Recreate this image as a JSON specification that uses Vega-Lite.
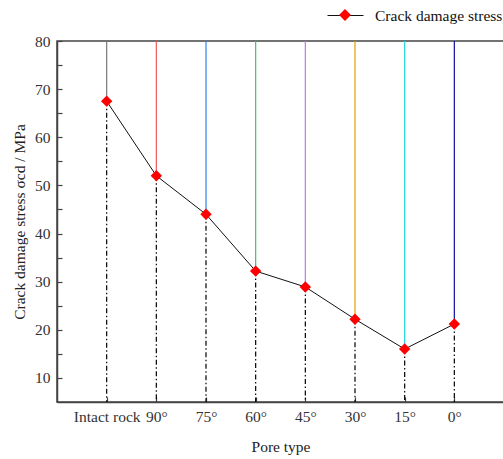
{
  "$schema": "https://vega.github.io/schema/vega-lite/v6.json",
  "width": 447,
  "height": 361,
  "autosize": "none",
  "padding": {"left": 57, "top": 41, "right": 0, "bottom": 57},
  "config": {
    "font": "Liberation Serif",
    "view": {"stroke": "#444444", "strokeWidth": 1.5},
    "axis": {
      "grid": false,
      "domainColor": "#444444",
      "domainWidth": 1.5,
      "tickColor": "#444444",
      "tickWidth": 1.2,
      "labelFont": "Liberation Serif",
      "labelFontSize": 15.5,
      "labelColor": "#333333",
      "titleFont": "Liberation Serif",
      "titleFontSize": 15.5,
      "titleFontWeight": "normal",
      "titleColor": "#222222"
    },
    "legend": {
      "labelFont": "Liberation Serif",
      "labelFontSize": 15.5,
      "labelColor": "#111111",
      "padding": 0
    }
  },
  "data": {
    "values": [
      {"type": "Intact rock", "stress": 67.5},
      {"type": "90°", "stress": 52.0},
      {"type": "75°", "stress": 44.0},
      {"type": "60°", "stress": 32.2},
      {"type": "45°", "stress": 28.9},
      {"type": "30°", "stress": 22.2},
      {"type": "15°", "stress": 16.0},
      {"type": "0°", "stress": 21.2}
    ]
  },
  "encoding": {
    "x": {
      "field": "type",
      "type": "nominal",
      "sort": null,
      "scale": {"type": "point", "padding": 1},
      "axis": {
        "title": "Pore type",
        "labelAngle": 0,
        "tickSize": -5,
        "labelPadding": 12,
        "titlePadding": 15
      }
    },
    "y": {
      "field": "stress",
      "type": "quantitative",
      "scale": {"domain": [5, 80], "nice": false, "zero": false},
      "axis": {
        "title": "Crack damage stress σcd / MPa",
        "values": [10, 15, 20, 25, 30, 35, 40, 45, 50, 55, 60, 65, 70, 75, 80],
        "labelExpr": "datum.value % 10 === 0 ? datum.label : ''",
        "tickSize": -5,
        "labelPadding": 12,
        "titlePadding": 7
      }
    }
  },
  "layer": [
    {
      "mark": {"type": "rule", "strokeWidth": 1.2},
      "encoding": {
        "y2": {"datum": 80},
        "color": {
          "field": "type",
          "type": "nominal",
          "scale": {
            "domain": ["Intact rock", "90°", "75°", "60°", "45°", "30°", "15°", "0°"],
            "range": ["#787878", "#f05a5a", "#2f80ee", "#3fbf75", "#b07fe8", "#e0a000", "#1fd8d8", "#1010a0"]
          },
          "legend": null
        }
      }
    },
    {
      "mark": {"type": "rule", "color": "#000000", "strokeWidth": 1.2, "strokeDash": [5, 2.5, 1.5, 2.5]},
      "encoding": {"y2": {"datum": 5}}
    },
    {
      "mark": {"type": "line", "strokeWidth": 1},
      "encoding": {
        "stroke": {
          "datum": "Crack damage stress",
          "scale": {"range": ["#111111"]},
          "legend": {
            "title": null,
            "orient": "none",
            "legendX": 270,
            "legendY": -44,
            "symbolType": "stroke",
            "symbolSize": 1296,
            "symbolStrokeWidth": 1,
            "labelOffset": 11
          }
        }
      }
    },
    {
      "mark": {"type": "point", "shape": "diamond", "filled": true, "size": 130, "opacity": 1},
      "encoding": {
        "fill": {
          "datum": "marker",
          "scale": {"range": ["#ff0000"]},
          "legend": {
            "title": null,
            "orient": "none",
            "legendX": 270,
            "legendY": -44,
            "symbolType": "M0,-0.33L0.33,0L0,0.33L-0.33,0Z",
            "symbolSize": 1296,
            "symbolStrokeWidth": 0,
            "symbolOpacity": 1,
            "labelExpr": "''",
            "labelOffset": 11
          }
        }
      }
    }
  ]
}
